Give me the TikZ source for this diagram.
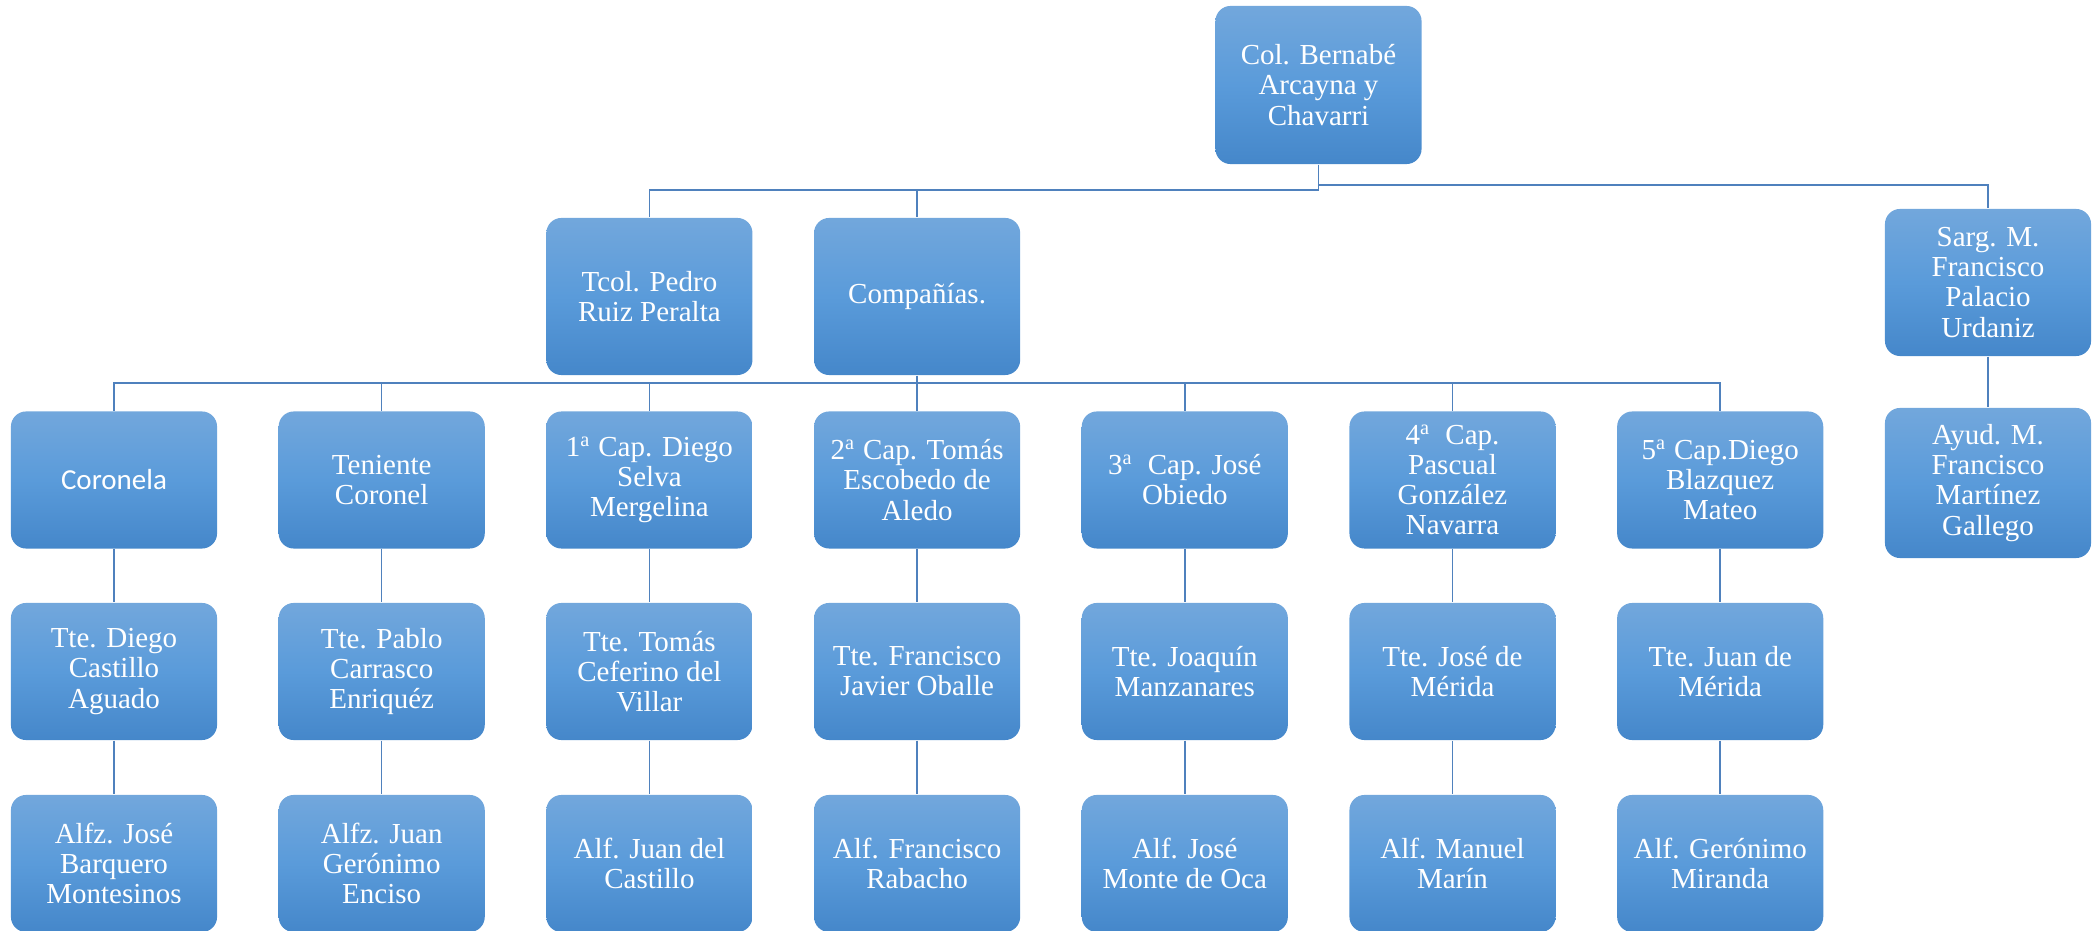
\documentclass[tikz,border=0pt]{standalone}
\usepackage{fontspec}
\setmainfont{Liberation Serif}
\newfontfamily\calfont{Carlito}
\usetikzlibrary{positioning}
\definecolor{boxtop}{HTML}{72A7DC}
\definecolor{boxmid}{HTML}{5A9BDA}
\definecolor{boxbot}{HTML}{4587CA}
\definecolor{linkblue}{HTML}{4F81BD}
\tikzset{
  every node/.style={font=\fontsize{8.25pt}{8.55pt}\selectfont},
  rank/.style={rounded corners=4.3pt,top color=boxtop,bottom color=boxbot,
    middle color=boxmid,text=white,align=center,inner sep=0pt,
    minimum width=2.06cm,minimum height=1.37cm},
  link/.style={draw=linkblue,line width=.45pt}}

\begin{document}
\begin{tikzpicture}[x=0.01cm,y=-0.01cm]
\useasboundingbox (0,0) rectangle (2099,931);

% top and second level
\node[rank,minimum height=1.58cm] (col) at (1318.5,85) {Col. Bernabé\\Arcayna y\\Chavarri};
\node[rank,minimum height=1.57cm] (tcol) at (649.4,296.5) {Tcol. Pedro\\Ruiz Peralta};
\node[rank,minimum height=1.57cm] (comp) at (917.1,296.5) {Compañías.};
\node[rank,minimum height=1.47cm] (sarg) at (1988,282.5) {Sarg. M.\\Francisco\\Palacio\\Urdaniz};
\node[rank,minimum height=1.50cm] (ayud) at (1988,483) {Ayud. M.\\Francisco\\Martínez\\Gallego};

% companies
\node[rank] (coro) at (114,480) {{\calfont Coronela}};
\node[rank] (tcor) at (381.7,480) {Teniente\\Coronel};
\node[rank] (cap1) at (649.4,480) {1\textsuperscript{a} Cap. Diego\\Selva\\Mergelina};
\node[rank] (cap2) at (917.1,480) {2\textsuperscript{a} Cap. Tomás\\Escobedo de\\Aledo};
\node[rank] (cap3) at (1184.8,480) {3\textsuperscript{a}\ \ Cap. José\\Obiedo};
\node[rank] (cap4) at (1452.5,480) {4\textsuperscript{a}\ \ Cap.\\Pascual\\González\\Navarra};
\node[rank] (cap5) at (1720.2,480) {5\textsuperscript{a} Cap.Diego\\Blazquez\\Mateo};

% tenientes
\node[rank] (tte1) at (114,671.5) {Tte. Diego\\Castillo\\Aguado};
\node[rank] (tte2) at (381.7,671.5) {Tte. Pablo\\Carrasco\\Enriquéz};
\node[rank] (tte3) at (649.4,671.5) {Tte. Tomás\\Ceferino del\\Villar};
\node[rank] (tte4) at (917.1,671.5) {Tte. Francisco\\Javier Oballe};
\node[rank] (tte5) at (1184.8,671.5) {Tte. Joaquín\\Manzanares};
\node[rank] (tte6) at (1452.5,671.5) {Tte. José de\\Mérida};
\node[rank] (tte7) at (1720.2,671.5) {Tte. Juan de\\Mérida};

% alfereces
\node[rank] (alf1) at (114,863.5) {Alfz. José\\Barquero\\Montesinos};
\node[rank] (alf2) at (381.7,863.5) {Alfz. Juan\\Gerónimo\\Enciso};
\node[rank] (alf3) at (649.4,863.5) {Alf. Juan del\\Castillo};
\node[rank] (alf4) at (917.1,863.5) {Alf. Francisco\\Rabacho};
\node[rank] (alf5) at (1184.8,863.5) {Alf. José\\Monte de Oca};
\node[rank] (alf6) at (1452.5,863.5) {Alf. Manuel\\Marín};
\node[rank] (alf7) at (1720.2,863.5) {Alf. Gerónimo\\Miranda};

% connectors
\coordinate (busL) at (0,190);
\coordinate (busR) at (0,185);
\coordinate (busC) at (0,383);
\draw[link] (col.south) -- (col.south|-busL) -| (tcol.north);
\draw[link] (col.south|-busL) -| (comp.north);
\draw[link] (col.south|-busR) -| (sarg.north);
\draw[link] (sarg) -- (ayud);
\draw[link] (comp.south) -- (comp.south|-busC);
\foreach \n in {coro,tcor,cap1,cap2,cap3,cap4,cap5}
  \draw[link] (comp.south|-busC) -| (\n.north);
\foreach \a/\b/\c in {coro/tte1/alf1,tcor/tte2/alf2,cap1/tte3/alf3,cap2/tte4/alf4,
  cap3/tte5/alf5,cap4/tte6/alf6,cap5/tte7/alf7}
  \draw[link] (\a) -- (\b) (\b) -- (\c);
\end{tikzpicture}
\end{document}
